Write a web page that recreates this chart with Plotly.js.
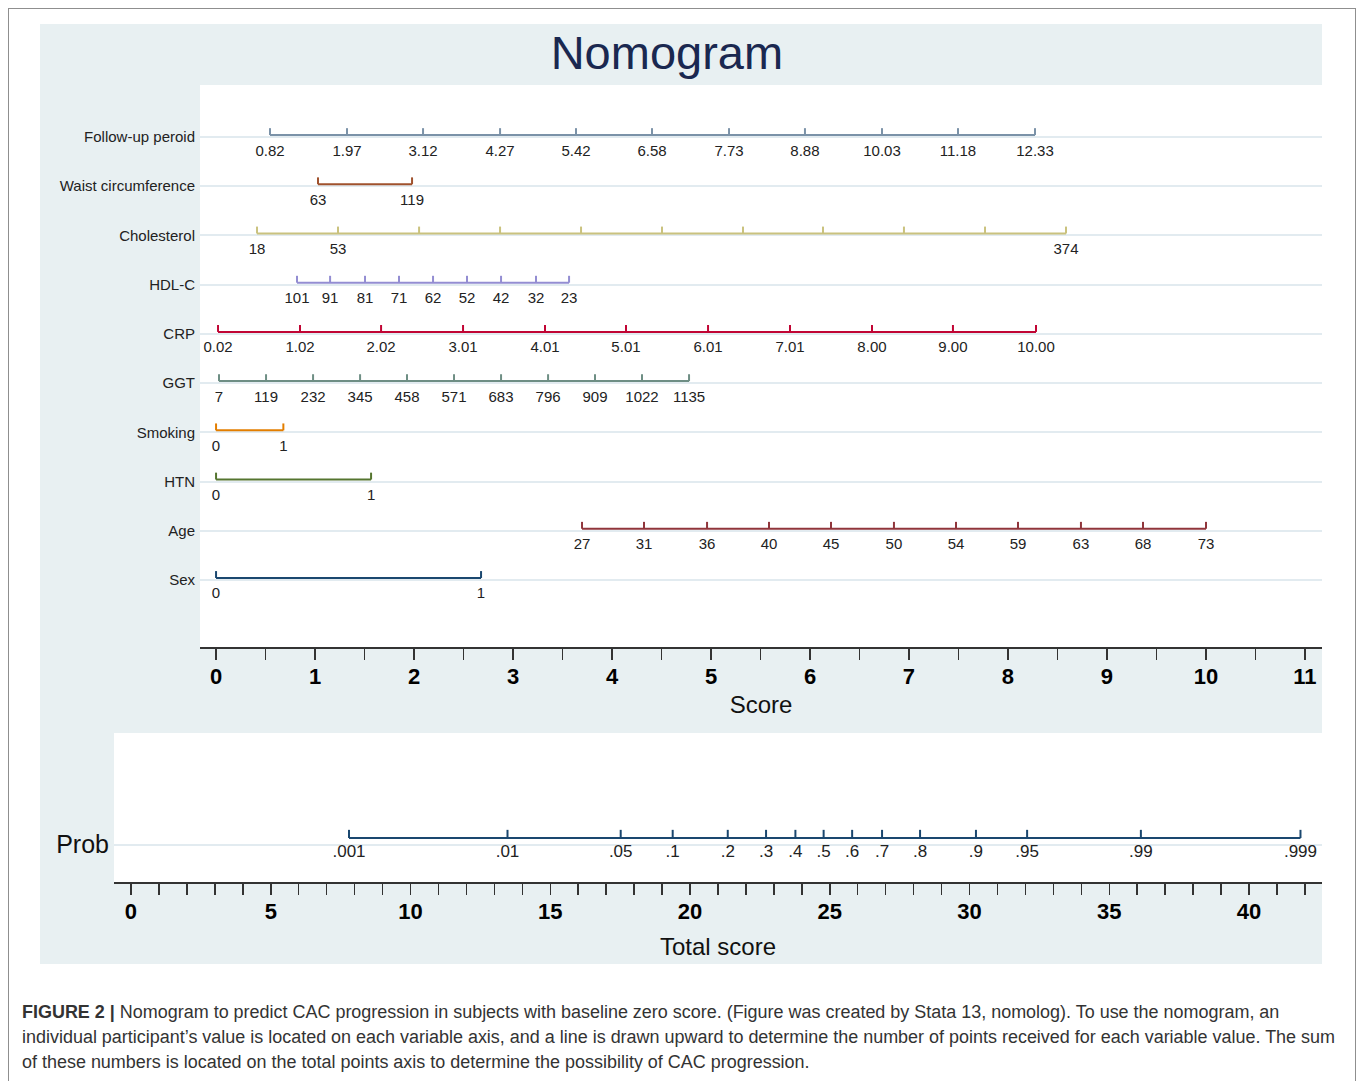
<!DOCTYPE html>
<html><head><meta charset="utf-8">
<script src="https://cdn.plot.ly/plotly-3.0.1.min.js"></script>
<style>
body{margin:0;background:#fff;width:1358px;height:1081px;overflow:hidden;position:relative;font-family:'Liberation Sans',Arial,sans-serif;}
#frame{position:absolute;left:8px;top:8px;width:1348px;height:1080px;border:1px solid #8f8f8f;box-sizing:border-box;}
#chart{position:absolute;left:40px;top:24px;width:1282px;height:940px;}
#caption{position:absolute;left:22px;top:1000px;font-size:18px;line-height:25px;color:#333;}
#caption div{white-space:nowrap;transform-origin:left center;}
</style></head>
<body>
<div id="frame"></div>
<div id="chart"></div>
<div id="caption">
<div class="cl"><b>FIGURE 2 |</b> Nomogram to predict CAC progression in subjects with baseline zero score. (Figure was created by Stata 13, nomolog). To use the nomogram, an</div>
<div class="cl">individual participant’s value is located on each variable axis, and a line is drawn upward to determine the number of points received for each variable value. The sum</div>
<div class="cl">of these numbers is located on the total points axis to determine the possibility of CAC progression.</div>
</div>
<script>
// ---- data (score-scale positions) ----
const variables = ['Follow-up peroid','Waist circumference','Cholesterol','HDL-C','CRP','GGT','Smoking','HTN','Age','Sex'];
const colors = ['#7b92a8','#a0522d','#cac27e','#938dd2','#c10534','#6e8e84','#e37e00','#55752f','#90353b','#1a476f'];

const followupLabels = ['0.82','1.97','3.12','4.27','5.42','6.58','7.73','8.88','10.03','11.18','12.33'];
const followupScores = [0.545,1.323,2.091,2.869,3.636,4.404,5.182,5.949,6.727,7.495,8.273];
const waistLabels = ['63','119'];
const waistScores = [1.030,1.980];
const cholLabels = ['18','53','','','','','','','','','374'];
const cholScores = [0.414,1.232,2.051,2.869,3.687,4.505,5.323,6.131,6.949,7.768,8.586];
const hdlLabels = ['101','91','81','71','62','52','42','32','23'];
const hdlScores = [0.818,1.152,1.505,1.848,2.192,2.535,2.879,3.232,3.566];
const crpLabels = ['0.02','1.02','2.02','3.01','4.01','5.01','6.01','7.01','8.00','9.00','10.00'];
const crpScores = [0.020,0.848,1.667,2.495,3.323,4.141,4.970,5.798,6.626,7.444,8.283];
const ggtLabels = ['7','119','232','345','458','571','683','796','909','1022','1135'];
const ggtScores = [0.030,0.505,0.980,1.455,1.929,2.404,2.879,3.354,3.828,4.303,4.778];
const smokingLabels = ['0','1'];
const smokingScores = [0,0.68];
const htnLabels = ['0','1'];
const htnScores = [0,1.566];
const ageLabels = ['27','31','36','40','45','50','54','59','63','68','73'];
const ageScores = [3.697,4.323,4.960,5.586,6.212,6.848,7.475,8.101,8.737,9.364,10.0];
const sexLabels = ['0','1'];
const sexScores = [0,2.677];

const probLabels = ['.001','.01','.05','.1','.2','.3','.4','.5','.6','.7','.8','.9','.95','.99','.999'];
const probScores = [7.80,13.47,17.52,19.38,21.35,22.72,23.77,24.78,25.80,26.87,28.23,30.23,32.06,36.13,41.84];

const allLabels = [followupLabels,waistLabels,cholLabels,hdlLabels,crpLabels,ggtLabels,smokingLabels,htnLabels,ageLabels,sexLabels];
const allScores = [followupScores,waistScores,cholScores,hdlScores,crpScores,ggtScores,smokingScores,htnScores,ageScores,sexScores];

// ---- build traces ----
const traces = [];
const rows = [];
function addScale(scores, labels, y, color, tickH, labOff, fontSize, xa, ya){
  const xs = [scores[0], scores[scores.length-1], null];
  const ys = [y, y, null];
  scores.forEach(s => { xs.push(s, s, null); ys.push(y, y + tickH, null); });
  traces.push({x: xs, y: ys, mode:'lines', line:{color:color, width:2}, xaxis:xa, yaxis:ya, hoverinfo:'skip', showlegend:false});
  traces.push({x: scores, y: scores.map(()=>y - labOff), text: labels, mode:'text',
    textfont:{size:fontSize, color:'#222'}, textposition:'middle center', xaxis:xa, yaxis:ya, hoverinfo:'skip', showlegend:false});
}
variables.forEach((v,i) => {
  const r = variables.length - i;
  rows.push(r);
  addScale(allScores[i], allLabels[i], r + 0.04, colors[i], 0.14, 0.34, 15, 'x', 'y');
});
addScale(probScores, probLabels, 0.295, '#1a476f', 0.055, 0.1, 17, 'x2', 'y2');

const axisCol = '#333';
const layout = {
  width:1282, height:940,
  margin:{l:74, r:0, t:61, b:82},
  paper_bgcolor:'#e8f0f2', plot_bgcolor:'#ffffff',
  font:{family:'Liberation Sans, Arial, sans-serif', color:'#111'},
  title:{text:'Nomogram', font:{size:47, color:'#1a2850'}, x:0.489, xanchor:'center', xref:'container',
         y:0.970, yanchor:'middle', yref:'container'},
  showlegend:false,
  xaxis:{domain:[0.0712,1], range:[-0.162,11.172], anchor:'y', showgrid:false, zeroline:false,
    showline:true, linecolor:axisCol, linewidth:2, ticks:'outside', ticklen:11, tickwidth:1.5, tickcolor:axisCol,
    tick0:0, dtick:1, minor:{tick0:0, dtick:0.5, ticks:'outside', ticklen:11, tickwidth:1.5, tickcolor:axisCol, showgrid:false},
    tickfont:{size:22, weight:'bold', color:'#000'}, ticklabelstandoff:-2,
    title:{text:'Score', font:{size:24, color:'#111'}, standoff:8}, fixedrange:true},
  yaxis:{domain:[0.2949,1], range:[-0.362,11.057], anchor:'x', tickmode:'array', tickvals:rows, ticktext:variables,
    showgrid:true, gridcolor:'#e2ebf0', gridwidth:2, zeroline:false, showline:false, ticks:'',
    tickfont:{size:15, color:'#222'}, ticklabelstandoff:4, fixedrange:true},
  xaxis2:{domain:[0,1], range:[-0.608,42.61], anchor:'y2', showgrid:false, zeroline:false,
    showline:true, linecolor:axisCol, linewidth:2, ticks:'outside', ticklen:11, tickwidth:1.5, tickcolor:axisCol,
    tick0:0, dtick:5, minor:{tick0:0, dtick:1, ticks:'outside', ticklen:11, tickwidth:1.5, tickcolor:axisCol, showgrid:false},
    tickfont:{size:22, weight:'bold', color:'#000'}, ticklabelstandoff:-2,
    title:{text:'Total score', font:{size:24, color:'#111'}, standoff:15}, fixedrange:true},
  yaxis2:{domain:[0,0.187], range:[0,1], anchor:'x2', tickmode:'array', tickvals:[0.25], ticktext:['Prob'],
    showgrid:true, gridcolor:'#e2ebf0', gridwidth:2, zeroline:false, showline:false, ticks:'',
    tickfont:{size:25, color:'#111'}, ticklabelstandoff:4, fixedrange:true}
};
Plotly.newPlot('chart', traces, layout, {staticPlot:true, displayModeBar:false});

// fit caption lines with one common horizontal scale (matching the reference's condensed type)
const lines = document.querySelectorAll('#caption .cl');
lines.forEach(el => { el.style.display = 'inline-block'; });
const w2 = lines[1].getBoundingClientRect().width;
const s = 1313 / w2;
lines.forEach(el => { el.style.display = 'block'; el.style.transform = 'scaleX(' + s + ')'; });
</script>
</body></html>
